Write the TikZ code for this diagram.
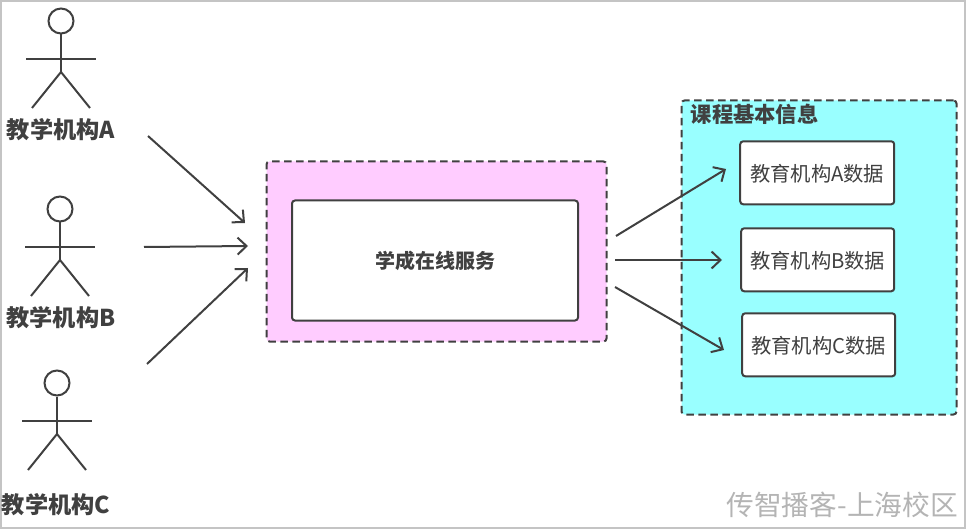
\documentclass[tikz,border=0pt]{standalone}
\usepackage{fontspec}
\setmainfont{Noto Sans CJK SC}
\usetikzlibrary{arrows.meta}
\definecolor{inkgray}{HTML}{404040}
\definecolor{pinkfill}{HTML}{FFCCFF}
\definecolor{cyanfill}{HTML}{99FFFF}
\definecolor{framegray}{HTML}{C4C4C4}
\definecolor{markgray}{HTML}{B4B4B4}
\tikzset{
    zone/.style={draw=inkgray,line width=2pt,dash pattern=on 7.5pt off 4.5pt,rounded corners=3pt,anchor=north west,inner sep=0pt},
    card/.style={draw=inkgray,fill=white,line width=2pt,rounded corners=3pt,inner sep=0pt,text=inkgray,text height=17pt,text depth=0pt,font=\fontsize{20.3}{24}\selectfont},
    actorhead/.style={draw=inkgray,line width=2pt,circle,minimum size=25pt,inner sep=0pt},
    actorname/.style={font=\fontsize{23.2}{26}\selectfont\bfseries,text=inkgray,inner sep=0pt},
    limb/.style={draw=inkgray,line width=2pt},
    flow/.style={-{Straight Barb[length=9pt,width=17pt,line width=2pt]},draw=inkgray,line width=2pt},
    pics/actor/.style={code={
        \node[actorhead] (#1-head) at (0,0) {};
        \coordinate (#1-hip) at (0,51);
        \path[limb] (#1-head.south) -- (#1-hip);
        \path[limb] (-35,38) -- (35,38);
        \path[limb] (-29,87) -- (#1-hip) -- (29,87);
    }}
}
\begin{document}
\begin{tikzpicture}[x=1pt,y=-1pt,>=Stealth]
    \useasboundingbox (0,0) rectangle (966,529);
    \draw[framegray,line width=2pt] (1,1) rectangle (965,528);

    % actors
    \pic at (61,21) {actor=acta};
    \pic at (60,209) {actor=actb};
    \pic at (57,383) {actor=actc};
    \node[actorname] (nameA) at (61,129.5) {教学机构A};
    \node[actorname] (nameB) at (61,317.5) {教学机构B};
    \node[actorname] (nameC) at (56,504.5) {教学机构C};

    % service
    \node[zone,fill=pinkfill,minimum width=340pt,minimum height=180pt] (portal) at (265.5,160.5) {};
    \node[card,minimum width=286pt,minimum height=120pt,font=\fontsize{20}{24}\selectfont\bfseries] (service) at (435,260.5) {学成在线服务};

    % data
    \node[zone,fill=cyanfill,minimum width=275pt,minimum height=314pt] (store) at (680.5,99.5) {};
    \node[anchor=west,inner sep=0pt,text=inkgray,font=\fontsize{21.3}{24}\selectfont\bfseries] (storetitle) at (690.5,114.5) {课程基本信息};
    \node[card,minimum width=154pt,minimum height=63pt] (dataA) at (817.2,172.8) {教育机构A数据};
    \node[card,minimum width=153pt,minimum height=63pt] (dataB) at (817.7,259.8) {教育机构B数据};
    \node[card,minimum width=153pt,minimum height=63pt] (dataC) at (818.7,344.8) {教育机构C数据};

    % free ends of the arrows
    \coordinate (a0) at (148,136);
    \coordinate (a1) at (245,223);
    \coordinate (b0) at (144,247);
    \coordinate (b1) at (248,246);
    \coordinate (c0) at (147,364);
    \coordinate (c1) at (248,268);
    \coordinate (d0) at (616,236);
    \coordinate (d1) at (726,169);
    \coordinate (e0) at (615,260);
    \coordinate (e1) at (722,260);
    \coordinate (f0) at (615,287);
    \coordinate (f1) at (724,350);

    \draw[flow] (a0) -- (a1);
    \draw[flow] (b0) -- (b1);
    \draw[flow] (c0) -- (c1);
    \draw[flow] (d0) -- (d1);
    \draw[flow] (e0) -- (e1);
    \draw[flow] (f0) -- (f1);

    \node[anchor=east,inner sep=0pt,text=markgray,font=\fontsize{27.7}{32}\selectfont] (mark) at (958,505) {传智播客-上海校区};
\end{tikzpicture}
\end{document}
